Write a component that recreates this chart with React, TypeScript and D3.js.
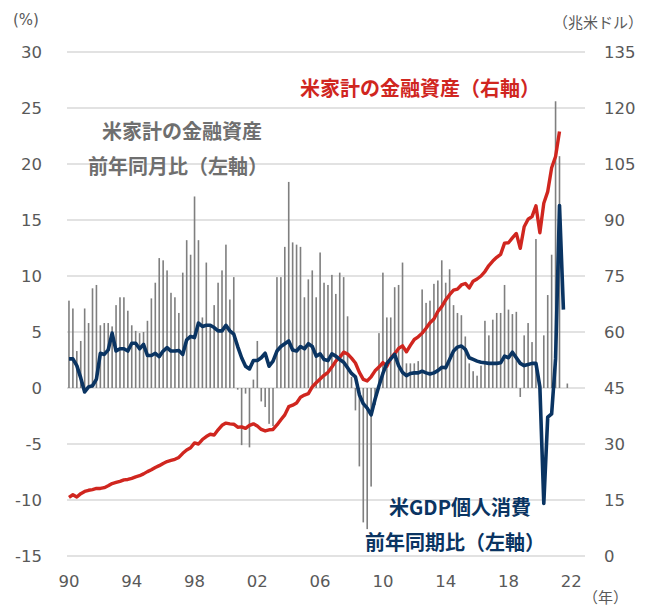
import * as d3 from "d3";
import React from "react";

// quarterly categories 1990Q1 .. 2022Q4
const years = d3.range(1990, 2023);
const quarters = years.flatMap((y) => [1, 2, 3, 4].map((q) => `${y}Q${q}`));

// 米家計の金融資産 前年同月比 (%), left axis
const assetYoY: (number | null)[] = [
  7.8, 7.1, 3.3, 4.2, 7.1, 5.8, 8.9, 9.2, 5.6, 5.8,
  5.8, 5.5, 7.4, 8.1, 8.1, 6.9, 5.6, 5.1, 4.9, 5.0,
  6.0, 8.0, 9.4, 11.6, 11.4, 10.5, 8.5, 8.1, 6.7, 10.3,
  13.2, 11.9, 17.1, 13.2, 6.3, 11.2, 5.5, 7.4, 9.4, 10.5,
  12.8, 7.9, 9.9, -0.15, -5.1, -0.5, -5.3, 0.75, 4.2, -1.2,
  -1.7, -3.2, -3.4, 9.9, 9.9, 12.6, 18.4, 13.0, 12.8, 12.6,
  8.1, 9.7, 10.5, 8.1, 12.1, 9.4, 9.2, 10.1, 8.4, 10.3,
  9.9, 6.4, 1.0, -2.0, -7.0, -12.0, -12.6, -8.8, -1.5, 4.9,
  10.3, 6.3, 6.3, 9.0, 9.2, 11.2, 2.2, 2.2, 2.2, 2.4,
  8.8, 7.6, 7.8, 9.3, 9.6, 11.4, 9.4, 10.6, 7.4, 6.7,
  6.5, 4.6, 2.2, 1.5, 1.1, 2.0, 6.0, 4.7, 6.1, 6.7,
  6.7, 9.2, 7.0, 6.6, 6.8, -0.8, 4.7, 5.8, 4.1, 13.3,
  -1.5, 4.7, 8.3, 11.9, 25.6, 20.7, null, 0.4,
];

// 米GDP個人消費 前年同期比 (%), left axis
const pceYoY: number[] = [
  2.6, 2.6, 2.0, 0.9, -0.35, 0.1, 0.2, 0.8, 3.1, 3.0,
  3.4, 4.9, 3.3, 3.5, 3.5, 3.3, 4.0, 4.0, 3.5, 3.9,
  2.9, 2.9, 3.1, 2.8, 3.3, 3.6, 3.3, 3.3, 3.35, 3.0,
  4.3, 4.6, 4.5, 5.8, 5.5, 5.6, 5.6, 5.4, 5.1, 5.1,
  5.6, 5.1, 4.8, 3.7, 2.7, 1.95, 1.7, 2.45, 2.45, 2.7,
  3.1, 1.95, 2.4, 3.3, 3.7, 3.95, 4.2, 3.4, 3.3, 3.7,
  3.5, 3.95, 3.7, 2.85, 3.05, 2.55, 2.45, 3.05, 2.85, 2.55,
  2.3, 1.8, 1.3, 1.0, -0.6, -1.4, -1.8, -2.4, -1.0, 0.2,
  1.3, 2.2, 2.6, 3.0, 2.0, 1.4, 1.1, 1.3, 1.35, 1.35,
  1.5, 1.35, 1.25, 1.35, 1.55, 1.85, 1.8, 2.55, 3.3, 3.65,
  3.75, 3.45, 2.7, 2.55, 2.4, 2.3, 2.25, 2.2, 2.2, 2.2,
  2.25, 2.85, 2.7, 3.2, 2.7, 2.2, 2.0, 2.1, 2.2, 2.2,
  0.1, -10.3, -2.6, -2.3, 2.6, 16.3, 7.0,
];

// 米家計の金融資産 (兆米ドル), right axis
const assetLevel: number[] = [
  15.7, 16.4, 15.8, 16.7, 17.3, 17.6, 17.8, 18.1, 18.1, 18.3,
  18.8, 19.4, 19.7, 20.0, 20.4, 20.5, 20.8, 21.2, 21.5, 22.0,
  22.6, 23.1, 23.7, 24.2, 24.8, 25.3, 25.6, 25.9, 26.4, 27.5,
  28.4, 29.0, 30.3, 30.0, 31.2, 32.0, 32.6, 32.4, 33.8, 35.0,
  35.6, 35.4, 35.3, 34.5, 34.6, 34.2, 35.0, 35.4, 34.8, 33.9,
  33.5, 33.8, 33.9, 35.1, 36.5, 37.8, 40.0, 40.4, 41.0, 42.5,
  43.1, 43.5, 45.3, 46.4, 47.4, 48.4, 49.2, 50.6, 52.2, 53.2,
  54.6, 54.1, 53.0, 51.7, 49.2, 47.3, 46.9, 48.0, 49.6, 50.6,
  51.8, 50.8, 53.0, 54.2, 55.6, 56.3, 54.7, 56.4, 58.0, 58.7,
  59.7, 61.0, 62.5, 63.5, 65.5, 66.8, 68.6, 70.0, 71.2, 71.5,
  72.6, 73.0, 71.8, 73.6, 74.2, 75.0, 76.2, 77.8, 79.0, 80.0,
  80.8, 83.8, 83.9, 85.2, 86.4, 82.4, 88.2, 90.2, 90.9, 93.8,
  86.6, 94.5, 97.6, 104.0, 107.0, 113.7,
];

const leftTicks = [-15, -10, -5, 0, 5, 10, 15, 20, 25, 30];
const rightTicks = [0, 15, 30, 45, 60, 75, 90, 105, 120, 135];
const xTickLabels = ["90", "94", "98", "02", "06", "10", "14", "18", "22"];

const W = 655;
const H = 608;
const plot = { left: 67, right: 585, top: 52, bottom: 556 };

const RED = "#d0261f";
const NAVY = "#0a3462";
const GREY = "#7f7f7f";
const TICK = "#595959";
const CJK = "'Noto Sans CJK JP', 'Noto Sans', sans-serif";
const NUM = "'DejaVu Sans', Verdana, sans-serif";

export default function App() {
  const x = d3.scaleBand().domain(quarters).range([plot.left, plot.right]);
  const yL = d3.scaleLinear().domain([-15, 30]).range([plot.bottom, plot.top]);
  const yR = d3.scaleLinear().domain([0, 135]).range([plot.bottom, plot.top]);
  const cx = (i: number) => (x(quarters[i]) as number) + x.bandwidth() / 2;

  const pceLine = d3
    .line<number>()
    .x((_, i) => cx(i))
    .y((d) => yL(d))
    .curve(d3.curveLinear)(pceYoY) as string;
  const assetLine = d3
    .line<number>()
    .x((_, i) => cx(i))
    .y((d) => yR(d))(assetLevel) as string;

  const barW = 1.6;

  return (
    <svg
      width={W}
      height={H}
      style={{ position: "absolute", left: 0, top: 0, background: "#fff" }}
    >
      {/* grid */}
      {leftTicks.map((t) => (
        <line
          key={t}
          x1={plot.left}
          x2={plot.right}
          y1={yL(t)}
          y2={yL(t)}
          stroke="#d9d9d9"
          strokeWidth={1.6}
        />
      ))}

      {/* bars */}
      {assetYoY.map((v, i) =>
        v == null ? null : (
          <rect
            key={i}
            x={cx(i) - barW / 2}
            width={barW}
            y={Math.min(yL(v), yL(0))}
            height={Math.abs(yL(v) - yL(0))}
            fill={GREY}
          />
        )
      )}

      <path d={assetLine} fill="none" stroke={RED} strokeWidth={3.4} strokeLinejoin="round" />
      <path d={pceLine} fill="none" stroke={NAVY} strokeWidth={3.6} strokeLinejoin="round" />

      {/* left ticks */}
      {leftTicks.map((t) => (
        <text
          key={t}
          x={42}
          y={yL(t)}
          dy="0.36em"
          textAnchor="end"
          fontFamily={NUM}
          fontSize={16.5}
          fill={TICK}
        >
          {t}
        </text>
      ))}
      {/* right ticks */}
      {rightTicks.map((t) => (
        <text
          key={t}
          x={604}
          y={yR(t)}
          dy="0.36em"
          textAnchor="start"
          fontFamily={NUM}
          fontSize={16.5}
          fill={TICK}
        >
          {t}
        </text>
      ))}
      {/* x ticks */}
      {xTickLabels.map((lab, k) => (
        <text
          key={lab}
          x={cx(k * 16)}
          y={581}
          dy="0.36em"
          textAnchor="middle"
          fontFamily={NUM}
          fontSize={16.5}
          fill={TICK}
        >
          {lab}
        </text>
      ))}

      {/* units */}
      <text x={13} y={20} dy="0.36em" fontFamily={NUM} fontSize={15} fill={TICK}>
        (%)
      </text>
      <text x={553} y={23} dy="0.36em" fontFamily={CJK} fontSize={15} fill={TICK}>
        （兆米ドル）
      </text>
      <text x={583} y={598} dy="0.36em" fontFamily={CJK} fontSize={15} fill={TICK}>
        （年）
      </text>

      {/* series labels */}
      <text x={420} y={89} dy="0.36em" textAnchor="middle" fontFamily={CJK} fontWeight="bold" fontSize={20} fill={RED}>
        米家計の金融資産（右軸）
      </text>
      <text x={182} y={132} dy="0.36em" textAnchor="middle" fontFamily={CJK} fontWeight="bold" fontSize={20} fill="#6f6f6f">
        米家計の金融資産
      </text>
      <text x={178} y={167} dy="0.36em" textAnchor="middle" fontFamily={CJK} fontWeight="bold" fontSize={20} fill="#6f6f6f">
        前年同月比（左軸）
      </text>
      <text x={460} y={508} dy="0.36em" textAnchor="middle" fontFamily={CJK} fontWeight="bold" fontSize={20} fill={NAVY}>
        米GDP個人消費
      </text>
      <text x={455} y={543} dy="0.36em" textAnchor="middle" fontFamily={CJK} fontWeight="bold" fontSize={20} fill={NAVY}>
        前年同期比（左軸）
      </text>
    </svg>
  );
}
